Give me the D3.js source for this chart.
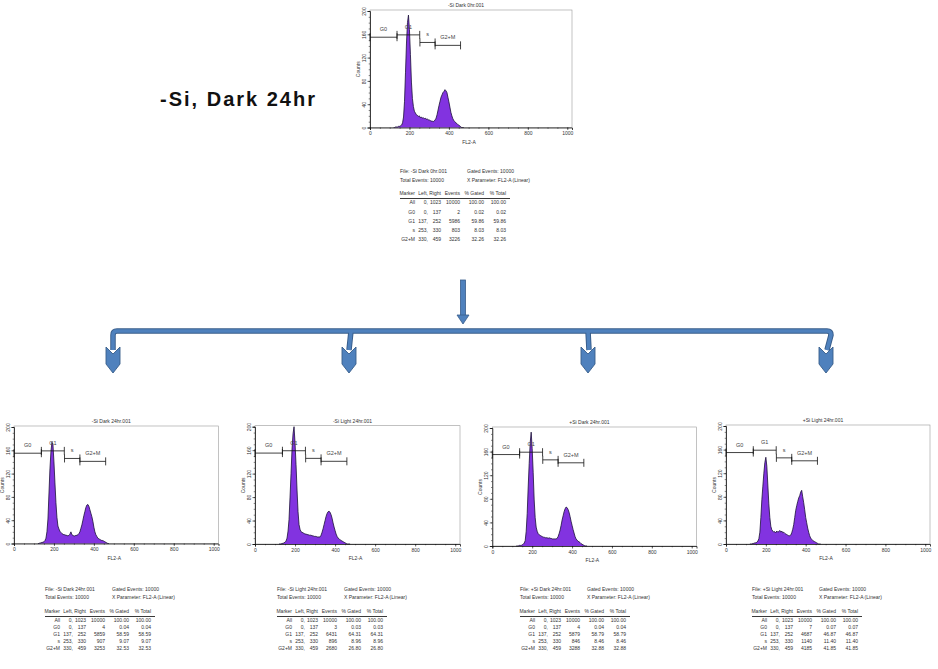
<!DOCTYPE html>
<html><head><meta charset="utf-8">
<script src="https://cdn.jsdelivr.net/npm/d3@7"></script>
<style>
body{margin:0;background:#fff}
svg{display:block}
text{font-family:"Liberation Sans",Arial,sans-serif}
</style>
</head><body>
<svg id="c" width="938" height="669"></svg>
<script>
// ---------------- DATA ----------------
const channels = d3.range(120, 480, 5); // FL2-A channel of each histogram bin
const countsDark0 = [0,0,1,1,1,2,2,3,4,8,18,45,95,145,180,193,168,125,78,50,36,28,25,22,21,19,20,17,18,16,17,15,16,14,15,13,13,12,11,11,10,11,13,16,22,30,38,45,52,56,60,62,65,63,60,52,44,35,26,20,15,12,10,8,7,5,4,3,1,0,0,0];
const countsDarkMinus24 = [0,0,1,1,2,2,3,5,9,20,42,85,128,158,174,170,140,104,70,45,30,25,21,19,17,16,15,15,14,14,13,14,16,20,15,14,13,13,14,14,15,17,20,26,32,40,48,55,62,66,67,64,58,52,46,38,28,20,15,12,9,8,7,6,5,5,4,3,2,1,0,0];
const countsLightMinus24 = [0,0,0,1,1,2,3,5,10,22,42,80,120,162,188,200,172,135,92,55,33,25,21,20,19,18,17,17,16,16,15,15,15,14,14,13,13,13,12,12,12,12,15,20,26,33,40,47,52,55,56,54,50,44,36,29,23,17,13,10,9,7,6,5,4,3,2,1,0,0,0,0];
const countsDarkPlus24 = [0,0,0,1,1,1,2,3,5,9,25,55,100,140,175,193,165,125,78,48,32,25,21,19,18,17,16,15,15,14,14,14,13,14,13,13,12,12,12,12,12,13,16,21,27,35,44,51,58,63,66,65,62,57,50,42,35,28,22,16,12,10,8,7,6,4,3,2,1,0,0,0];
const countsLightPlus24 = [0,0,0,1,1,2,2,3,5,9,20,45,75,98,120,138,147,132,100,68,45,30,24,22,20,21,19,22,20,21,23,20,22,19,20,18,17,16,15,14,14,15,19,25,33,45,57,65,72,78,82,88,91,80,70,58,45,36,27,20,14,10,8,6,5,4,3,2,1,0,0,0];

const sampleFiles = ["-Si Dark 0hr.001","-Si Dark 24hr.001","-Si Light 24hr.001","+Si Dark 24hr.001","+Si Light 24hr.001"];
const xTicks = [0,200,400,600,800,1000];
const yTicks = [0,40,80,120,160,200];

const markerNames = ["All","G0","G1","s","G2+M"];
const markerLeft = [0,0,137,253,330];
const markerRight = [1023,137,252,330,459];
const markerLevel = [null,155,159,146,141];

const eventsDark0 = [10000,2,5986,803,3226];
const eventsDarkMinus24 = [10000,4,5859,907,3253];
const eventsLightMinus24 = [10000,3,6431,896,2680];
const eventsDarkPlus24 = [10000,4,5879,846,3288];
const eventsLightPlus24 = [10000,7,4687,1140,4185];

const pctDark0 = ["100.00","0.02","59.86","8.03","32.26"];
const pctDarkMinus24 = ["100.00","0.04","58.59","9.07","32.53"];
const pctLightMinus24 = ["100.00","0.03","64.31","8.96","26.80"];
const pctDarkPlus24 = ["100.00","0.04","58.79","8.46","32.88"];
const pctLightPlus24 = ["100.00","0.07","46.87","11.40","41.85"];

const bigLabel = "-Si, Dark 24hr";

// ---------------- LAYOUT ----------------
const panels = [
  {counts:countsDark0, events:eventsDark0, pct:pctDark0, x0:370, x1:572, yb:127.5, yt:11, tx:400, ty:172, step:9.2, hstep:9},
  {counts:countsDarkMinus24, events:eventsDarkMinus24, pct:pctDarkMinus24, x0:14, x1:218.5, yb:543.5, yt:427, tx:45, ty:590, step:7, hstep:7.3},
  {counts:countsLightMinus24, events:eventsLightMinus24, pct:pctLightMinus24, x0:255, x1:460, yb:544, yt:426.7, tx:277, ty:590, step:7, hstep:7.3},
  {counts:countsDarkPlus24, events:eventsDarkPlus24, pct:pctDarkPlus24, x0:492.3, x1:696.5, yb:546, yt:428, tx:520, ty:590, step:7, hstep:7.3},
  {counts:countsLightPlus24, events:eventsLightPlus24, pct:pctLightPlus24, x0:726, x1:930, yb:544, yt:426, tx:752, ty:590, step:7, hstep:7.3}
];

const svg = d3.select("#c");
svg.append("rect").attr("width",938).attr("height",669).attr("fill","#fff");

const txtCol = "#333";
const fillCol = "#8233e0";

panels.forEach((p, i) => {
  const g = svg.append("g");
  const x = d3.scaleLinear().domain([0,1024]).range([p.x0, p.x1]);
  const y = d3.scaleLinear().domain([0,200]).range([p.yb, p.yt]);

  // frame
  g.append("rect").attr("x",p.x0).attr("y",p.yt-1).attr("width",p.x1-p.x0).attr("height",p.yb-p.yt+1)
    .attr("fill","none").attr("stroke","#999").attr("stroke-width",0.6);

  // histogram
  const pts = channels.map((c,k)=>[c,p.counts[k]]);
  const area = d3.area().x(d=>x(d[0])).y0(y(0)).y1(d=>y(d[1]));
  const line = d3.line().x(d=>x(d[0])).y(d=>y(d[1]));
  g.append("path").datum(pts).attr("d",area).attr("fill",fillCol);
  g.append("path").datum(pts).attr("d",line).attr("fill","none").attr("stroke","#1c1238").attr("stroke-width",0.8);

  // axes
  const ax = g.append("g").attr("transform",`translate(0,${p.yb})`)
    .call(d3.axisBottom(x).tickValues(xTicks).tickFormat(d3.format("d")).tickSize(2.5).tickPadding(1.5));
  ax.selectAll("text").attr("font-size",5).attr("fill",txtCol).attr("font-family","Liberation Sans, Arial");
  ax.select(".domain").attr("stroke","#111").attr("stroke-width",0.8);
  ax.selectAll(".tick line").attr("stroke","#111").attr("stroke-width",0.6);
  g.append("g").attr("transform",`translate(0,${p.yb})`)
    .call(d3.axisBottom(x).tickValues(d3.range(0,1025,50)).tickSize(1.3).tickFormat(""))
    .call(s=>{s.select(".domain").remove(); s.selectAll("line").attr("stroke","#111").attr("stroke-width",0.5);});

  const ay = g.append("g").attr("transform",`translate(${p.x0},0)`)
    .call(d3.axisLeft(y).tickValues(yTicks).tickSize(2.5));
  ay.select(".domain").attr("stroke","#111").attr("stroke-width",0.8);
  ay.selectAll(".tick line").attr("stroke","#111").attr("stroke-width",0.6);
  ay.selectAll("text").attr("font-size",5).attr("fill",txtCol).attr("font-family","Liberation Sans, Arial")
    .attr("transform","rotate(-90)").attr("x",0).attr("y",-4).attr("dy",0).attr("text-anchor","middle");
  g.append("g").attr("transform",`translate(${p.x0},0)`)
    .call(d3.axisLeft(y).tickValues(d3.range(0,201,10)).tickSize(1.3).tickFormat(""))
    .call(s=>{s.select(".domain").remove(); s.selectAll("line").attr("stroke","#111").attr("stroke-width",0.5);});

  // axis titles
  g.append("text").attr("x",(p.x0+p.x1)/2 - 2).attr("y",p.yb+16).attr("font-size",5).attr("fill",txtCol)
    .attr("text-anchor","middle").text("FL2-A");
  g.append("text").attr("transform",`translate(${p.x0-10},${(p.yt+p.yb)/2}) rotate(-90)`)
    .attr("font-size",5).attr("fill",txtCol).attr("text-anchor","middle").text("Counts");
  // title
  g.append("text").attr("x",(p.x0+p.x1)/2 - 5).attr("y",p.yt-4).attr("font-size",5).attr("fill",txtCol)
    .attr("text-anchor","middle").text(sampleFiles[i]);

  // markers
  for (let m=1; m<markerNames.length; m++) {
    const yy = y(markerLevel[m]);
    const xl = x(markerLeft[m]), xr = x(markerRight[m]);
    g.append("line").attr("x1",xl).attr("x2",xr).attr("y1",yy).attr("y2",yy).attr("stroke","#111").attr("stroke-width",0.8);
    [xl,xr].forEach(xx=>g.append("line").attr("x1",xx).attr("x2",xx).attr("y1",yy-4).attr("y2",yy+4).attr("stroke","#111").attr("stroke-width",0.8));
    g.append("text").attr("x",(xl+xr)/2).attr("y",yy-6).attr("font-size",5.5).attr("fill","#444")
      .attr("text-anchor","middle").text(markerNames[m]);
  }

  // stats table
  const t = svg.append("g").attr("font-size",5).attr("fill",txtCol);
  t.append("text").attr("x",p.tx).attr("y",p.ty).attr("dominant-baseline","middle").text("File: " + sampleFiles[i]);
  t.append("text").attr("x",p.tx+67).attr("y",p.ty).attr("dominant-baseline","middle").text("Gated Events: " + p.events[0]);
  t.append("text").attr("x",p.tx).attr("y",p.ty+p.hstep).attr("dominant-baseline","middle").text("Total Events: " + p.events[0]);
  t.append("text").attr("x",p.tx+67).attr("y",p.ty+p.hstep).attr("dominant-baseline","middle").text("X Parameter: FL2-A (Linear)");
  const hy = p.ty + 22;
  const cols = [15,28,41,60,84,106];
  const hdr = ["Marker","Left, Right","Events","% Gated","% Total"];
  t.append("text").attr("x",p.tx+cols[0]).attr("y",hy).attr("text-anchor","end").attr("dominant-baseline","middle").text(hdr[0]);
  t.append("text").attr("x",p.tx+cols[2]).attr("y",hy).attr("text-anchor","end").attr("dominant-baseline","middle").text(hdr[1]);
  t.append("text").attr("x",p.tx+cols[3]).attr("y",hy).attr("text-anchor","end").attr("dominant-baseline","middle").text(hdr[2]);
  t.append("text").attr("x",p.tx+cols[4]).attr("y",hy).attr("text-anchor","end").attr("dominant-baseline","middle").text(hdr[3]);
  t.append("text").attr("x",p.tx+cols[5]).attr("y",hy).attr("text-anchor","end").attr("dominant-baseline","middle").text(hdr[4]);
  t.append("line").attr("x1",p.tx).attr("x2",p.tx+110).attr("y1",hy+4.5).attr("y2",hy+4.5).attr("stroke","#222").attr("stroke-width",0.9);
  markerNames.forEach((mn,r)=>{
    const ry = hy + 9 + r*p.step;
    const row = [mn, markerLeft[r]+",", String(markerRight[r]), String(p.events[r]), p.pct[r], p.pct[r]];
    row.forEach((v,c)=>t.append("text").attr("x",p.tx+cols[c]).attr("y",ry).attr("text-anchor","end").attr("dominant-baseline","middle").text(v));
  });
});

// ---------------- big label ----------------
svg.append("text").attr("x",160).attr("y",106).attr("font-family","'Noto Sans CJK KR','Noto Sans',sans-serif")
  .attr("font-weight",700).attr("font-size",20).attr("fill","#111")
  .attr("textLength",155).attr("lengthAdjust","spacing").text(bigLabel);

// ---------------- arrows ----------------
const arrowFill = "#4f81bd", arrowEdge = "#385d8a";
const a = svg.append("g");
a.append("rect").attr("x",460.5).attr("y",280).attr("width",5).attr("height",36).attr("fill",arrowFill).attr("stroke",arrowEdge).attr("stroke-width",0.8);
a.append("path").attr("d","M457,315 L469,315 L463,324 Z").attr("fill",arrowFill).attr("stroke",arrowEdge).attr("stroke-width",0.8);

const drops = [113,349,588,826];
const conn = "M113,350 L113,335 Q113,331 117,331 L827,331 Q831,331 831,335 L827,350 M351,331 L349,350 M588,331 L589,350";
a.append("path").attr("d",conn).attr("fill","none").attr("stroke",arrowEdge).attr("stroke-width",5.5).attr("stroke-linejoin","round");
a.append("path").attr("d",conn).attr("fill","none").attr("stroke",arrowFill).attr("stroke-width",3.6).attr("stroke-linejoin","round");
drops.forEach(dx=>{
  a.append("path").attr("d",`M${dx-7},347 L${dx},354 L${dx+7},347 L${dx+7},364 L${dx},373 L${dx-7},364 Z`)
    .attr("fill",arrowFill).attr("stroke",arrowEdge).attr("stroke-width",0.9);
});
</script>
</body></html>
